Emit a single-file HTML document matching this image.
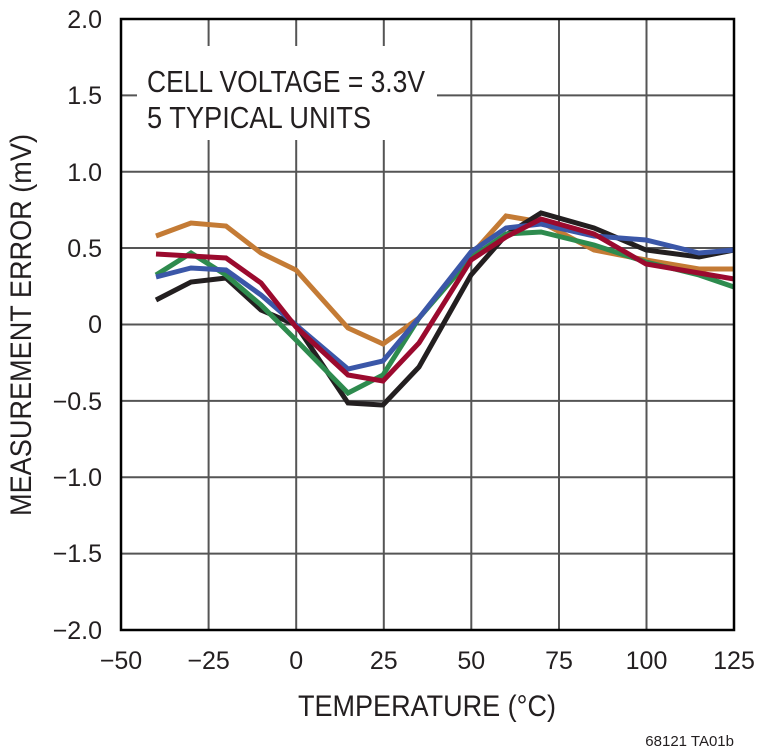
<!DOCTYPE html>
<html><head><style>body{margin:0;background:#fff}svg{display:block}text{font-family:"Liberation Sans",sans-serif;fill:#231f20}</style></head><body>
<svg width="760" height="751" viewBox="0 0 760 751" xmlns="http://www.w3.org/2000/svg">
<g stroke="#555" stroke-width="2">
<line x1="208.6" y1="19" x2="208.6" y2="630"/><line x1="296.2" y1="19" x2="296.2" y2="630"/><line x1="383.8" y1="19" x2="383.8" y2="630"/><line x1="471.3" y1="19" x2="471.3" y2="630"/><line x1="559" y1="19" x2="559" y2="630"/><line x1="646.5" y1="19" x2="646.5" y2="630"/>
<line x1="121" y1="95.4" x2="734" y2="95.4"/><line x1="121" y1="171.7" x2="734" y2="171.7"/><line x1="121" y1="248" x2="734" y2="248"/><line x1="121" y1="324.5" x2="734" y2="324.5"/><line x1="121" y1="400.9" x2="734" y2="400.9"/><line x1="121" y1="477.2" x2="734" y2="477.2"/><line x1="121" y1="553.6" x2="734" y2="553.6"/>
</g>
<rect x="137" y="46" width="300" height="94" fill="#fff"/>
<text x="147" y="92" font-size="31" textLength="278" lengthAdjust="spacingAndGlyphs">CELL VOLTAGE = 3.3V</text>
<text x="147" y="128" font-size="31" textLength="224" lengthAdjust="spacingAndGlyphs">5 TYPICAL UNITS</text>
<g fill="none" stroke-width="5" stroke-linejoin="miter">
<polyline stroke="#c47b35" points="156,236 191,223 226,226 261,253 296,270 348,328 383,344 419,318 471,255 506,216 541,222 594,250 646,260 699,269 734,269"/>
<polyline stroke="#231f20" points="156,300 191,282 226,278 261,310 296,325 348,403 383,405 419,367 471,275 506,235 541,213 594,228 646,250 699,257 734,250"/>
<polyline stroke="#2e8b4e" points="156,275 191,253 226,275 261,305 296,340 348,393 383,375 419,318 471,258 506,234 541,232 594,245 646,262 699,275 734,287"/>
<polyline stroke="#3b57a8" points="156,277 191,268 226,270 261,295 296,325 348,369 383,361 419,318 471,252 506,228 541,224 594,236 646,240 699,253 734,250"/>
<polyline stroke="#9b0a2e" points="156,254 191,256 226,258 261,283 296,327 348,375 383,381 419,343 471,260 506,237 541,219 594,234 646,264 699,273 734,279"/>
</g>
<rect x="121" y="19" width="613" height="611" fill="none" stroke="#000" stroke-width="2.5"/>
<g font-size="25" text-anchor="end">
<text x="102" y="28">2.0</text><text x="102" y="104">1.5</text><text x="102" y="181">1.0</text><text x="102" y="257">0.5</text><text x="102" y="333">0</text><text x="102" y="410">−0.5</text><text x="102" y="486">−1.0</text><text x="102" y="562">−1.5</text><text x="102" y="639">−2.0</text>
</g>
<g font-size="25" text-anchor="middle">
<text x="121" y="669">−50</text><text x="208.6" y="669">−25</text><text x="296.2" y="669">0</text><text x="383.8" y="669">25</text><text x="471.3" y="669">50</text><text x="559" y="669">75</text><text x="646.5" y="669">100</text><text x="734" y="669">125</text>
</g>
<text x="427" y="716" font-size="30" text-anchor="middle" textLength="258" lengthAdjust="spacingAndGlyphs">TEMPERATURE (°C)</text>
<text transform="translate(31,325) rotate(-90)" font-size="30" text-anchor="middle" textLength="382" lengthAdjust="spacingAndGlyphs">MEASUREMENT ERROR (mV)</text>
<text x="734" y="746" font-size="15" text-anchor="end">68121 TA01b</text>
</svg>
</body></html>
